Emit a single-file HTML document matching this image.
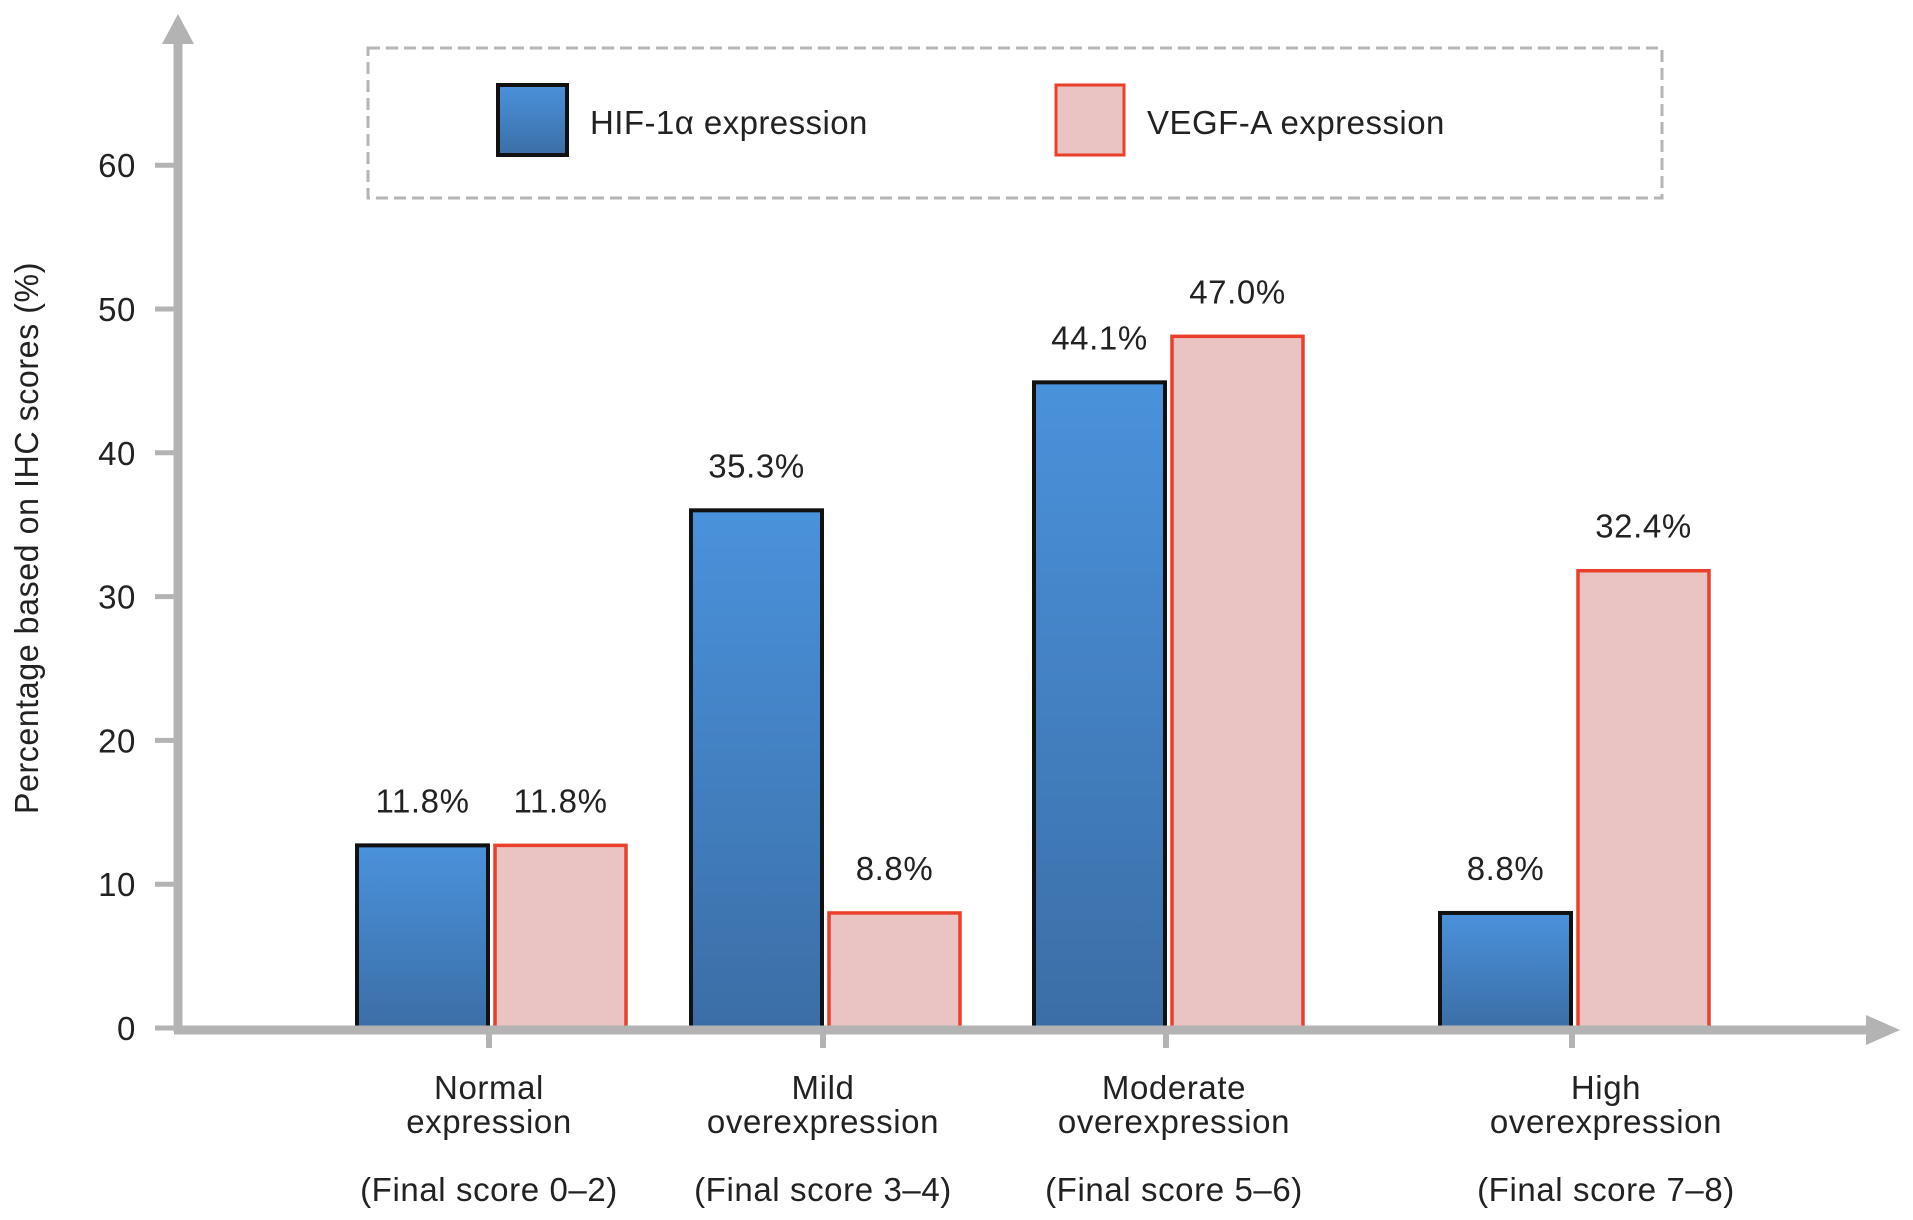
<!DOCTYPE html>
<html><head><meta charset="utf-8"><style>
html,body{margin:0;padding:0;background:#fff;}
svg{display:block;font-family:"Liberation Sans",sans-serif;}
text{letter-spacing:0.6px;}
</style></head><body>
<svg id="chart" width="1913" height="1220" viewBox="0 0 1913 1220">
<defs>
<linearGradient id="gBlue" x1="0" y1="0" x2="0" y2="1"><stop offset="0" stop-color="#4a92dc"/><stop offset="1" stop-color="#3b6ea6"/></linearGradient>
</defs>
<rect x="368" y="48" width="1294" height="150" fill="none" stroke="#b5b5b5" stroke-width="3" stroke-dasharray="12 6"/>
<g>
<rect x="498" y="85" width="69" height="70" fill="url(#gBlue)" stroke="#111" stroke-width="4"/>
<text x="590" y="134" font-size="33" fill="#222" textLength="278">HIF-1α expression</text>
</g>
<g>
<rect x="1056" y="85" width="68" height="70" fill="#e9c4c2" stroke="#ea3f2a" stroke-width="3"/>
<text x="1147" y="134" font-size="33" fill="#222" textLength="298">VEGF-A expression</text>
</g>
<text transform="translate(38,538) rotate(-90)" text-anchor="middle" font-size="33" fill="#222" textLength="552" lengthAdjust="spacingAndGlyphs">Percentage based on IHC scores (%)</text>
<g id="yticks"></g>
<g id="bars"></g>
<g id="xlabels"></g>
<line x1="178" y1="1032" x2="178" y2="38" stroke="#b3b3b3" stroke-width="9"/>
<polygon points="178,14 162,44 194,44" fill="#b3b3b3"/>
<line x1="174" y1="1030" x2="1870" y2="1030" stroke="#b3b3b3" stroke-width="9"/>
<polygon points="1900,1030 1866,1015 1866,1045" fill="#b3b3b3"/>
</svg>
<script>
const categories = ["Normal expression","Mild overexpression","Moderate overexpression","High overexpression"];
const catLine1 = ["Normal","Mild","Moderate","High"];
const catLine2 = ["expression","overexpression","overexpression","overexpression"];
const catScore = ["(Final score 0–2)","(Final score 3–4)","(Final score 5–6)","(Final score 7–8)"];
const hifValues = [12.7, 36.0, 44.9, 8.0];
const vegfValues = [12.7, 8.0, 48.1, 31.8];
const hifLabels = ["11.8%","35.3%","44.1%","8.8%"];
const vegfLabels = ["11.8%","8.8%","47.0%","32.4%"];
const yTicks = [0,10,20,30,40,50,60];

const NS = "http://www.w3.org/2000/svg";
const y0 = 1028, pxPer = 14.38;
function yScale(v){ return y0 - v*pxPer; }
const catCenters = [489, 823, 1166, 1572];
function xCat(i){ return catCenters[i]; }
const barW = 131;
function mk(tag, attrs, parent){ const e=document.createElementNS(NS,tag); for(const k in attrs) e.setAttribute(k,attrs[k]); parent.appendChild(e); return e; }

const yt = document.getElementById('yticks');
yTicks.forEach(t=>{
  const y = yScale(t);
  const l = mk('line',{x1:155,y1:y,x2:178,y2:y,stroke:'#b3b3b3','stroke-width':5},yt);
  
  
  const tx = mk('text',{x:136,y:y+12,'text-anchor':'end','font-size':33,fill:'#222'},yt);
  tx.textContent = t;
  
  
});

const bg = document.getElementById('bars');
categories.forEach((c,i)=>{
  const cx = xCat(i);
  const hy = yScale(hifValues[i]);
  const b1 = mk('rect',{x:cx-barW-1,y:hy,width:barW,height:y0-hy,fill:'url(#gBlue)',stroke:'#111','stroke-width':4},bg);
  
  
  const t1 = mk('text',{x:cx-barW/2-1,y:hy-33,'text-anchor':'middle','font-size':33,fill:'#222'},bg);
  t1.textContent = hifLabels[i];
  
  
  const vy = yScale(vegfValues[i]);
  const b2 = mk('rect',{x:cx+6,y:vy,width:barW,height:y0-vy,fill:'#e9c4c2',stroke:'#ea3f2a','stroke-width':3.5},bg);
  
  
  const t2 = mk('text',{x:cx+6+barW/2,y:vy-33,'text-anchor':'middle','font-size':33,fill:'#222'},bg);
  t2.textContent = vegfLabels[i];
  
  
});

const xl = document.getElementById('xlabels');
categories.forEach((c,i)=>{
  const cx = xCat(i);
  const tk = mk('line',{x1:cx,y1:1030,x2:cx,y2:1048,stroke:'#b3b3b3','stroke-width':6},xl);
  
  
  const lx = i===3 ? cx+34 : (i===2 ? cx+8 : cx);
  [[catLine1[i],1099],[catLine2[i],1133],[catScore[i],1201]].forEach(([s,y])=>{
    const t = mk('text',{x:lx,y:y,'text-anchor':'middle','font-size':33,fill:'#222'},xl);
    t.textContent = s;
    
    
  });
});
</script>
</body></html>
